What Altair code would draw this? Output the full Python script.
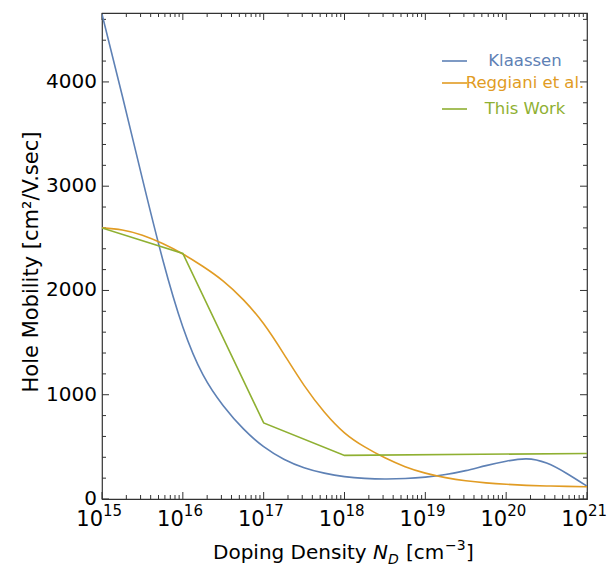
import altair as alt
import pandas as pd

# Hole mobility in silicon versus donor density, three models.
# Doping is given as log10(N_D / cm^-3); mobility in cm^2/(V s).
series = ["Klaassen", "Reggiani et al.", "This Work"]
series_colors = ["#5E81B5", "#E19C24", "#8FB032"]

klaassen_log_nd = [15.0, 15.25, 15.5, 15.75, 16.0, 16.25, 16.5, 16.75, 17.0, 17.25,
                   17.5, 17.75, 18.0, 18.25, 18.5, 18.75, 19.0, 19.25, 19.5, 19.75,
                   20.0, 20.25, 20.5, 20.75, 21.0]
klaassen_mu = [4650, 3870, 3070, 2300, 1650, 1190, 895, 672, 502, 382,
               300, 248, 215, 198, 192, 196, 210, 235, 272, 320,
               362, 385, 345, 245, 123]

reggiani_log_nd = [15.0, 15.25, 15.5, 15.75, 16.0, 16.25, 16.5, 16.75, 17.0, 17.25,
                   17.5, 17.75, 18.0, 18.25, 18.5, 18.75, 19.0, 19.25, 19.5, 19.75,
                   20.0, 20.25, 20.5, 20.75, 21.0]
reggiani_mu = [2600, 2580, 2530, 2450, 2350, 2230, 2090, 1910, 1680, 1390,
               1090, 835, 635, 500, 395, 310, 248, 205, 175, 155,
               141, 131, 125, 121, 118]

work_log_nd = [15, 16, 17, 18, 21]
work_mu = [2600, 2355, 730, 418, 437]

# Axis ticks
decades = list(range(15, 22))
y_major = [0, 1000, 2000, 3000, 4000]
y_minor = [v for v in range(200, 4661, 200) if v % 1000]
x_minor = [m * 10.0 ** e for e in range(15, 21) for m in range(2, 10)]

W, H = 485, 486
Y_TOP = 4661
FONT = "DejaVu Sans"
FRAME = "#333333"

x_scale = alt.Scale(type="log", domain=[1e15, 1e21], nice=False)
y_scale = alt.Scale(domain=[0, Y_TOP], nice=False, zero=False)
color_scale = alt.Scale(domain=series, range=series_colors)


def xenc():
    return alt.X("N:Q", scale=x_scale, axis=None)


def yenc():
    return alt.Y("mu:Q", scale=y_scale, axis=None)


def curve(name, log_nd, mu, interp):
    df = pd.DataFrame({"series": name, "N": [10.0 ** v for v in log_nd], "mu": mu})
    return alt.Chart(df).mark_line(strokeWidth=1.6, interpolate=interp, clip=True).encode(
        x=xenc(),
        y=yenc(),
        color=alt.Color("series:N", scale=color_scale, legend=None),
    )


def x_ticks(values, length):
    base = alt.Chart(pd.DataFrame({"N": values})).mark_rule(color=FRAME, strokeWidth=1)
    bottom = base.encode(x=xenc(), y=alt.value(H), y2=alt.value(H - length))
    top = base.encode(x=xenc(), y=alt.value(0), y2=alt.value(length))
    return bottom + top


def y_ticks(values, length):
    base = alt.Chart(pd.DataFrame({"mu": values})).mark_rule(color=FRAME, strokeWidth=1)
    left = base.encode(y=yenc(), x=alt.value(0), x2=alt.value(length))
    right = base.encode(y=yenc(), x=alt.value(W), x2=alt.value(W - length))
    return left + right


def label(text, x, y, size, angle=0, align="left", style="normal", color="black"):
    return alt.Chart(pd.DataFrame({"t": [text]})).mark_text(
        align=align, baseline="alphabetic", font=FONT, fontSize=size,
        fontStyle=style, angle=angle, color=color,
    ).encode(x=alt.value(x), y=alt.value(y), text="t:N")


layers = []

# frame ticks (inward, all four sides)
layers.append(x_ticks([10.0 ** e for e in decades], 7))
layers.append(x_ticks(x_minor, 4))
layers.append(y_ticks(y_major, 7))
layers.append(y_ticks(y_minor, 4))

# curves
layers.append(curve(series[0], klaassen_log_nd, klaassen_mu, "natural"))
layers.append(curve(series[1], reggiani_log_nd, reggiani_mu, "natural"))
layers.append(curve(series[2], work_log_nd, work_mu, "linear"))

# y tick labels
y_lab = pd.DataFrame({"mu": y_major, "label": [str(v) for v in y_major]})
layers.append(alt.Chart(y_lab).mark_text(
    align="right", baseline="middle", dx=-5, font=FONT, fontSize=20, color="black"
).encode(x=alt.value(0), y=yenc(), text="label:N"))

# x tick labels: 10 with a raised exponent
x_lab = pd.DataFrame({"N": [10.0 ** e for e in decades], "exp": [str(e) for e in decades]})
layers.append(alt.Chart(x_lab).mark_text(
    align="right", baseline="alphabetic", dx=1, font=FONT, fontSize=21, color="black"
).encode(x=xenc(), y=alt.value(H + 27), text=alt.value("10")))
layers.append(alt.Chart(x_lab).mark_text(
    align="left", baseline="alphabetic", dx=1, font=FONT, fontSize=15, color="black"
).encode(x=xenc(), y=alt.value(H + 17), text="exp:N"))

# x axis title: Doping Density N_D [cm^-3]
tx, ty = 111, H + 60
layers += [
    label("Doping Density", tx, ty, 20),
    label("N", tx + 160, ty, 20, style="italic"),
    label("D", tx + 175, ty + 5, 14, style="italic"),
    label("[cm", tx + 193, ty, 20),
    label("\u22123", tx + 232, ty - 9, 14),
    label("]", tx + 253, ty, 20),
]

# y axis title
layers.append(label("Hole Mobility [cm\u00b2/V.sec]", -64, 249, 21, angle=270, align="center"))

# legend
legend_y = [48, 70, 96]
for name, col, ly in zip(series, series_colors, legend_y):
    layers.append(alt.Chart(pd.DataFrame({"s": [name]})).mark_rule(
        color=col, strokeWidth=1.6
    ).encode(x=alt.value(340), x2=alt.value(365), y=alt.value(ly)))
    layers.append(alt.Chart(pd.DataFrame({"s": [name]})).mark_text(
        align="center", baseline="middle", font=FONT, fontSize=16.5, color=col
    ).encode(x=alt.value(423), y=alt.value(ly), text="s:N"))

chart = alt.layer(*layers).properties(
    width=W,
    height=H,
    padding={"left": 102, "top": 13, "right": 23, "bottom": 69},
    autosize=alt.AutoSizeParams(type="none"),
    background="white",
).configure_view(stroke=FRAME, strokeWidth=1.2)

chart.save("out.html", embed_options={"renderer": "svg", "actions": False})
